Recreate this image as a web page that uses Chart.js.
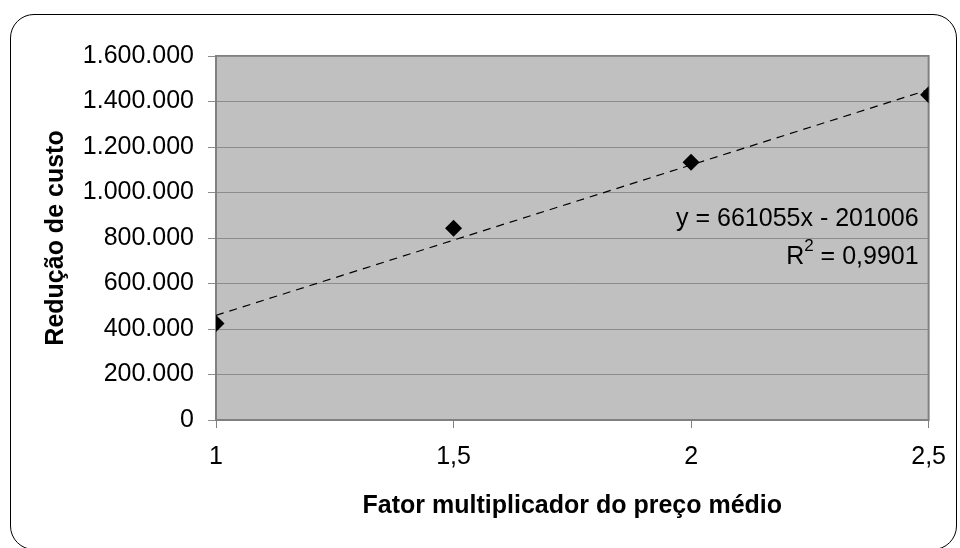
<!DOCTYPE html>
<html>
<head>
<meta charset="utf-8">
<script src="https://cdn.jsdelivr.net/npm/chart.js@4"></script>
<style>
    html, body { margin: 0; padding: 0; background: #ffffff; }
    #quadro { position: relative; width: 960px; height: 548px; overflow: hidden; }
    #moldura {
        position: absolute; left: 10px; top: 14px; width: 945px; height: 534px;
        border: 1.5px solid #000000; border-radius: 24px; pointer-events: none;
    }
</style>
</head>
<body>
<div id="quadro">
    <canvas id="meuGrafico" width="960" height="548"></canvas>
    <div id="moldura"></div>
</div>
<script>
// dados
const fatorMultiplicador = [1, 1.5, 2, 2.5];
const reducaoCusto = [424000, 843000, 1133000, 1430000];

const rotulosX = { 1: '1', 1.5: '1,5', 2: '2', 2.5: '2,5' };
const rotulosY = ['0', '200.000', '400.000', '600.000', '800.000', '1.000.000', '1.200.000', '1.400.000', '1.600.000'];

// linha de tendência (coeficientes exibidos no gráfico)
const inclinacao = 661055;
const intercepto = -201006;
const textoEquacao = 'y = 661055x - 201006';
const textoR2 = '0,9901';

const FONTE = '"Liberation Sans", Arial, sans-serif';

const linhaTendencia = [
    { x: fatorMultiplicador[0], y: inclinacao * fatorMultiplicador[0] + intercepto },
    { x: fatorMultiplicador[fatorMultiplicador.length - 1], y: inclinacao * fatorMultiplicador[fatorMultiplicador.length - 1] + intercepto }
];

// fundo cinza da área de plotagem + borda
const fundoPlotagem = {
    id: 'fundoPlotagem',
    beforeDraw(chart) {
        const { ctx, chartArea: a } = chart;
        ctx.save();
        ctx.fillStyle = '#c0c0c0';
        ctx.fillRect(a.left, a.top, a.right - a.left, a.bottom - a.top);
        ctx.strokeStyle = '#808080';
        ctx.lineWidth = 2;
        ctx.strokeRect(a.left, a.top, a.right - a.left, a.bottom - a.top);
        ctx.restore();
    }
};

// equação e R² da tendência
const rotuloEquacao = {
    id: 'rotuloEquacao',
    afterDatasetsDraw(chart) {
        const { ctx, chartArea: a } = chart;
        const direita = a.right - 10;
        ctx.save();
        ctx.fillStyle = '#000000';
        ctx.textBaseline = 'middle';
        ctx.font = '25px ' + FONTE;
        ctx.textAlign = 'right';
        ctx.fillText(textoEquacao, direita, a.top + 163);

        const resto = ' = ' + textoR2;
        const larguraResto = ctx.measureText(resto).width;
        ctx.fillText(resto, direita, a.top + 201);
        ctx.font = '17px ' + FONTE;
        const larguraSup = ctx.measureText('2').width;
        ctx.fillText('2', direita - larguraResto, a.top + 190);
        ctx.font = '25px ' + FONTE;
        ctx.fillText('R', direita - larguraResto - larguraSup, a.top + 201);
        ctx.restore();
    }
};

const ctx = document.getElementById('meuGrafico').getContext('2d');
const grafico = new Chart(ctx, {
    type: 'scatter',
    data: {
        datasets: [{
            label: 'Redução de custo',
            data: fatorMultiplicador.map((x, i) => ({ x: x, y: reducaoCusto[i] })),
            pointStyle: 'rectRot',
            pointRadius: 8.5,
            backgroundColor: '#000000',
            borderColor: '#000000',
            borderWidth: 0,
            order: 1
        }, {
            label: 'Tendência',
            type: 'line',
            data: linhaTendencia,
            borderColor: '#000000',
            borderWidth: 1.2,
            borderDash: [8, 6],
            pointRadius: 0,
            fill: false,
            order: 2
        }]
    },
    options: {
        responsive: false,
        animation: false,
        layout: { padding: { top: 56, right: 30, left: 0, bottom: 0 } },
        plugins: {
            legend: { display: false },
            tooltip: { enabled: false }
        },
        scales: {
            x: {
                type: 'linear',
                min: 1,
                max: 2.5,
                afterFit: (escala) => { escala.height = 128; },
                ticks: {
                    stepSize: 0.5,
                    color: '#000000',
                    font: { family: FONTE, size: 25 },
                    padding: 14,
                    callback: (v) => rotulosX[v]
                },
                grid: { drawOnChartArea: false, tickLength: 8, color: '#808080', lineWidth: 1 },
                border: { color: '#808080', width: 2 },
                title: {
                    display: true,
                    text: 'Fator multiplicador do preço médio',
                    color: '#000000',
                    font: { family: FONTE, size: 25, weight: 'bold' },
                    padding: { bottom: 27 }
                }
            },
            y: {
                min: 0,
                max: 1600000,
                afterFit: (escala) => { escala.width = 216; },
                ticks: {
                    stepSize: 200000,
                    color: '#000000',
                    font: { family: FONTE, size: 25 },
                    padding: 14,
                    callback: (v) => rotulosY[Math.round(v / 200000)]
                },
                grid: { color: '#8c8c8c', lineWidth: 1, tickLength: 8 },
                border: { color: '#808080', width: 2 },
                title: {
                    display: true,
                    text: 'Redução de custo',
                    color: '#000000',
                    font: { family: FONTE, size: 25, weight: 'bold' },
                    padding: { top: 41 }
                }
            }
        }
    },
    plugins: [fundoPlotagem, rotuloEquacao]
});
</script>
</body>
</html>
